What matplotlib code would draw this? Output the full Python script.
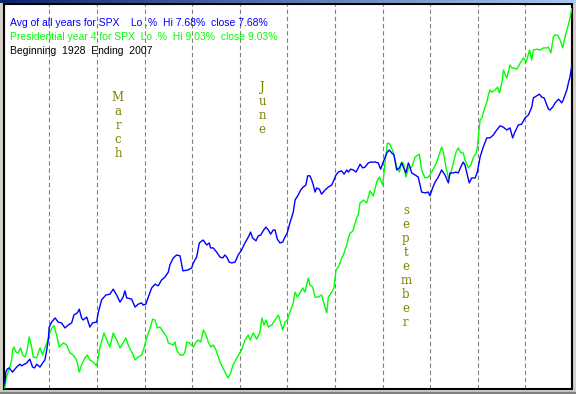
import numpy as np
import matplotlib
matplotlib.use("Agg")
import matplotlib.pyplot as plt
from matplotlib.patches import Rectangle

# trading day of the year -> % change since the first day of the year
avg_days = [
    0.0, 0.4, 1.0, 1.9, 3.4, 5.2, 6.7, 7.4, 9.7, 11.1,
    12.3, 13.2, 14.1, 15.6, 16.8, 17.8, 18.6, 19.3, 19.7, 20.8,
    22.3, 23.7, 25.2, 26.7, 28.2, 29.7, 30.7, 32.2, 33.1, 34.1,
    34.8, 36.4, 37.8, 39.0, 40.8, 41.5, 43.0, 44.9, 46.7, 48.2,
    49.7, 51.2, 52.6, 53.4, 54.2, 56.4, 57.9, 59.3, 60.8, 61.5,
    62.7, 63.8, 65.3, 66.8, 68.2, 69.7, 71.2, 72.7, 73.4, 74.9,
    76.4, 77.9, 79.2, 81.4, 83.1, 83.8, 85.3, 86.5, 88.2, 89.8,
    90.9, 91.5, 92.7, 94.2, 95.7, 96.9, 97.9, 98.7, 99.8, 100.9,
    102.4, 103.8, 105.3, 106.8, 108.3, 109.3, 110.2, 111.7, 112.7, 113.8,
    114.9, 116.1, 117.2, 118.2, 119.4, 120.2, 121.2, 122.4, 123.6, 124.6,
    125.6, 126.8, 128.3, 129.1, 130.5, 131.6, 132.7, 133.9, 134.7, 135.7,
    136.5, 137.2, 138.0, 138.7, 139.9, 140.9, 142.4, 143.9, 145.4, 146.4,
    147.3, 148.3, 149.8, 150.9, 152.1, 152.8, 153.8, 155.0, 156.2, 157.2,
    158.0, 159.2, 160.2, 161.7, 162.7, 164.7, 166.1, 167.2, 168.3, 169.9,
    171.0, 172.1, 173.1, 174.3, 175.5, 176.5, 177.3, 178.4, 179.5, 180.2,
    181.0, 182.5, 183.9, 185.4, 186.9, 188.4, 189.1, 190.3, 191.4, 192.8,
    194.3, 195.8, 197.3, 198.0, 199.5, 200.7, 201.7, 202.8, 203.9, 204.7,
    205.5, 206.6, 207.7, 209.2, 210.2, 211.4, 212.8, 214.4, 215.8, 217.3,
    218.8, 220.3, 221.7, 223.3, 224.7, 225.9, 226.9, 228.4, 229.9, 231.4,
    232.9, 234.4, 235.1, 236.6, 237.8, 238.8, 239.9, 241.1, 241.8, 242.5,
    243.7, 244.8, 246.3, 247.0, 247.7, 248.4, 249.2, 250.0, 250.7, 251.4,
    251.9, 252.2,
]
avg_pct = [
    0.05, 0.31, 0.38, 0.41, 0.31, 0.43, 0.50, 0.46, 0.53, 0.62,
    0.43, 0.41, 0.50, 0.43, 0.53, 0.60, 0.84, 1.08, 1.39, 1.51,
    1.61, 1.51, 1.49, 1.37, 1.44, 1.49, 1.68, 1.73, 1.82, 1.61,
    1.56, 1.63, 1.39, 1.49, 1.51, 1.73, 2.04, 2.16, 2.18, 2.30,
    2.16, 1.99, 2.11, 2.26, 2.09, 2.06, 1.87, 1.94, 1.97, 1.92,
    1.94, 2.11, 2.33, 2.42, 2.38, 2.52, 2.59, 2.71, 2.88, 3.05,
    3.12, 3.10, 2.74, 2.76, 2.81, 2.93, 3.07, 3.41, 3.48, 3.36,
    3.41, 3.29, 3.29, 3.19, 3.07, 3.05, 3.12, 3.07, 2.95, 2.93,
    2.95, 3.12, 3.24, 3.41, 3.55, 3.67, 3.53, 3.46, 3.58, 3.60,
    3.70, 3.79, 3.72, 3.62, 3.72, 3.72, 3.50, 3.41, 3.43, 3.55,
    3.65, 3.89, 4.15, 4.44, 4.56, 4.68, 4.75, 4.80, 5.02, 5.02,
    4.92, 4.80, 4.63, 4.73, 4.70, 4.58, 4.68, 4.75, 4.80, 4.92,
    5.04, 5.11, 5.14, 5.06, 5.16, 5.11, 5.18, 5.16, 5.11, 5.21,
    5.30, 5.21, 5.23, 5.33, 5.35, 5.35, 5.33, 5.18, 5.35, 5.57,
    5.64, 5.57, 5.52, 5.16, 5.21, 5.33, 5.23, 5.09, 5.33, 5.23,
    5.09, 5.04, 4.99, 4.63, 4.61, 4.63, 4.54, 4.73, 4.87, 4.99,
    5.16, 5.04, 4.85, 5.09, 5.09, 5.11, 5.09, 5.23, 5.35, 5.28,
    5.09, 4.85, 4.97, 4.97, 5.11, 5.47, 5.71, 5.93, 5.93, 6.00,
    6.12, 6.22, 6.19, 6.12, 6.17, 5.93, 6.07, 6.24, 6.26, 6.41,
    6.48, 6.67, 6.89, 6.94, 6.98, 6.91, 6.89, 6.72, 6.62, 6.60,
    6.67, 6.77, 6.86, 6.82, 6.77, 6.84, 6.96, 7.08, 7.25, 7.39,
    7.56, 7.68,
]

pres_days = [
    0.0, 0.4, 1.0, 2.2, 3.0, 3.4, 4.0, 4.9, 5.9, 7.0,
    7.9, 8.9, 9.9, 10.8, 11.9, 12.6, 14.1, 15.6, 16.8, 17.8,
    18.8, 20.0, 20.9, 21.8, 23.0, 24.2, 26.0, 27.5, 28.9, 30.4,
    31.9, 33.1, 34.1, 35.6, 36.6, 37.8, 39.3, 40.8, 41.5, 42.3,
    44.1, 45.3, 46.7, 48.2, 49.7, 51.2, 52.6, 53.8, 54.9, 55.9,
    57.1, 57.9, 59.3, 60.8, 61.9, 63.1, 64.9, 65.7, 66.8, 67.8,
    69.0, 70.5, 72.0, 72.7, 74.9, 75.7, 76.4, 77.9, 79.4, 80.1,
    80.9, 82.1, 83.8, 85.0, 86.1, 87.1, 88.3, 89.5, 90.5, 91.6,
    92.7, 93.9, 95.7, 97.9, 99.2, 100.1, 101.5, 103.2, 105.3, 106.8,
    108.3, 109.1, 110.5, 112.0, 113.5, 114.3, 115.3, 116.1, 117.2, 118.7,
    120.2, 121.7, 122.7, 123.6, 124.6, 125.6, 126.8, 128.3, 129.1, 130.1,
    131.3, 132.5, 133.5, 135.0, 135.7, 136.9, 138.0, 139.4, 140.9, 142.4,
    143.2, 143.9, 145.4, 146.4, 147.3, 148.3, 149.1, 149.8, 150.6, 151.3,
    152.1, 152.8, 153.6, 154.3, 155.0, 156.5, 157.2, 158.0, 158.7, 159.4,
    161.0, 161.7, 162.4, 163.9, 165.4, 166.6, 168.1, 169.1, 170.2, 171.3,
    172.8, 174.3, 175.5, 176.5, 177.3, 178.4, 179.5, 181.0, 182.5, 184.4,
    185.4, 186.9, 188.4, 189.9, 192.1, 194.3, 195.1, 196.2, 197.3, 198.4,
    199.5, 200.7, 201.7, 202.8, 203.9, 204.7, 206.2, 207.3, 208.5, 209.7,
    210.2, 211.4, 212.2, 212.9, 214.4, 215.1, 215.8, 216.6, 218.1, 219.2,
    220.0, 221.1, 221.8, 222.6, 223.3, 224.7, 225.5, 226.2, 227.8, 229.3,
    230.7, 231.9, 233.4, 234.4, 235.1, 236.6, 238.1, 239.6, 241.1, 241.8,
    242.9, 244.0, 244.8, 245.8, 247.0, 248.2, 249.2, 250.0, 250.7, 251.4,
    251.9, 252.2,
]
pres_pct = [
    -0.07, 0.12, 0.24, 0.43, 0.60, 0.84, 0.91, 0.79, 0.77, 0.89,
    0.72, 0.67, 0.84, 1.15, 0.91, 0.67, 0.65, 0.89, 0.72, 0.89,
    1.03, 1.25, 1.37, 1.42, 1.20, 0.91, 1.01, 0.96, 0.77, 0.72,
    0.60, 0.31, 0.48, 0.65, 0.72, 0.60, 0.55, 0.46, 0.65, 0.91,
    1.25, 1.08, 0.91, 1.25, 1.08, 0.89, 1.01, 1.13, 0.96, 0.84,
    0.72, 0.60, 0.67, 0.72, 0.89, 1.13, 1.42, 1.58, 1.56, 1.37,
    1.39, 1.27, 1.15, 1.01, 0.96, 1.03, 0.84, 0.72, 0.72, 0.79,
    1.03, 1.01, 0.91, 1.03, 1.08, 1.03, 1.32, 1.20, 1.03, 0.91,
    0.96, 0.84, 0.55, 0.31, 0.17, 0.24, 0.48, 0.65, 0.84, 1.08,
    1.20, 1.08, 1.25, 1.10, 1.27, 1.61, 1.44, 1.56, 1.39, 1.44,
    1.56, 1.68, 1.49, 1.32, 1.51, 1.56, 1.75, 1.97, 2.23, 2.11,
    2.21, 2.33, 2.23, 2.57, 2.40, 2.35, 2.11, 2.11, 2.16, 1.87,
    1.73, 2.11, 2.23, 2.33, 2.76, 2.83, 2.93, 3.05, 3.12, 3.24,
    3.36, 3.53, 3.65, 3.67, 3.72, 4.01, 4.08, 4.37, 4.39, 4.44,
    4.37, 4.51, 4.66, 4.54, 4.87, 4.99, 4.80, 5.33, 5.81, 5.78,
    5.59, 5.23, 5.11, 5.35, 5.33, 4.99, 5.21, 5.23, 5.47, 5.54,
    5.16, 4.97, 4.99, 5.11, 5.35, 5.71, 5.59, 5.23, 4.97, 5.09,
    5.33, 5.59, 5.69, 5.57, 5.57, 5.40, 5.21, 5.28, 5.47, 5.57,
    5.71, 6.36, 6.41, 6.55, 6.79, 6.96, 7.08, 7.03, 7.08, 7.15,
    7.01, 7.25, 7.56, 7.44, 7.37, 7.68, 7.61, 7.61, 7.58, 7.73,
    7.85, 7.75, 8.04, 7.80, 8.04, 8.06, 8.04, 8.09, 8.09, 8.11,
    7.97, 8.35, 8.40, 8.40, 8.28, 8.09, 8.35, 8.52, 8.64, 8.81,
    8.95, 9.03,
]

# last trading day of each month (Jan..Nov)
month_ends = [19.7, 41.1, 62.5, 83.4, 104.8, 125.7, 147.0, 168.4, 189.3, 210.6, 231.6]

month_names = ["March", "June", "september"]
month_name_day = [50.3, 114.4, 178.4]
month_name_top = [6.90, 7.13, 4.18]

header = [
    ("Avg of all years for SPX    Lo .%  Hi 7.68%  close 7.68%", "#0000ff"),
    ("Presidential year 4 for SPX  Lo .%  Hi 9.03%  close 9.03%", "#00ff00"),
    ("Beginning  1928  Ending  2007", "#000000"),
]

W, H = 576, 394
fig = plt.figure(figsize=(W / 100, H / 100), dpi=100)
fig.patch.set_facecolor("#d4d0c8")

ax = fig.add_axes([4 / W, 5 / H, 568 / W, 385 / H])
ax.set_facecolor("white")
for s in ax.spines.values():
    s.set_color("black")
    s.set_linewidth(1.5)
ax.set_xticks([])
ax.set_yticks([])
ax.set_xlim(-0.4, 252.3)
ax.set_ylim(-0.096, 9.144)

for d in month_ends:
    ax.axvline(d, color="#808080", lw=0.8, dashes=(4, 2.5), zorder=1)

ax.plot(pres_days, pres_pct, color="#00ff00", lw=1.0, zorder=3)
ax.plot(avg_days, avg_pct, color="#0000ff", lw=1.0, zorder=4)

step = 0.334
for name, d, top in zip(month_names, month_name_day, month_name_top):
    for i, ch in enumerate(name):
        ax.text(d, top - i * step, ch, color="#808000", family="DejaVu Serif",
                fontsize=8.5, ha="center", va="center", zorder=2)

for i, (txt, col) in enumerate(header):
    fig.text(10 / W, 1 - (22.5 + i * 14) / H, txt, color=col, family="Liberation Sans",
             fontsize=7.5, ha="left", va="center")

# window chrome: title bar gradient on top, dark edge at the bottom
bar = fig.add_axes([0, 1 - 3 / H, 1, 3 / H])
grad = np.linspace(0, 1, 256)[None, :]
c0 = np.array([10, 36, 106]) / 255
c1 = np.array([166, 202, 240]) / 255
bar.imshow((c0 + (c1 - c0) * grad[..., None]), aspect="auto")
bar.axis("off")
fig.patches.append(Rectangle((0, 0), 1, 2 / H, transform=fig.transFigure,
                             color="#808080", zorder=0))

fig.savefig("out.png", dpi=100, facecolor=fig.get_facecolor())
